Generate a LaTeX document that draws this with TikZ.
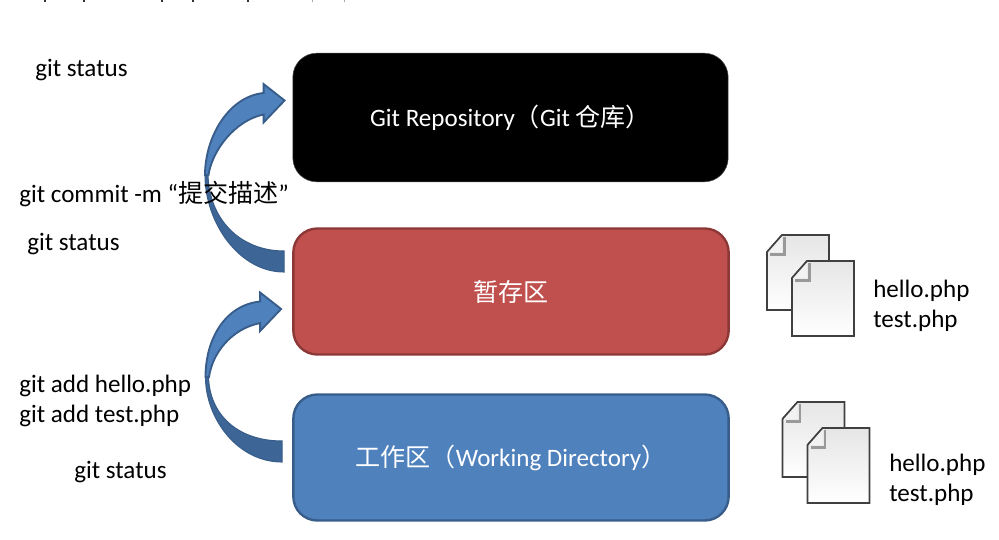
\documentclass[tikz,border=0pt]{standalone}
\usepackage{fontspec}
\setmainfont{Carlito}
\newfontfamily\cjk{Noto Sans CJK SC}
\usepackage{xcolor}
\usepackage{tikz}
\usetikzlibrary{positioning, calc}

\definecolor{gitblue}{HTML}{4F81BD}
\definecolor{gitblueedge}{HTML}{385D8A}
\definecolor{gitbluedark}{HTML}{3D6596}
\definecolor{gitred}{HTML}{C0504D}
\definecolor{gitrededge}{HTML}{8C3836}

% #1 tip, #2 neck, #3 middle of the tail
\newcommand{\bentarrow}[3]{
  \draw[bentdark] (#2) .. controls ($(#2)!.55!(#2|-#3)$) and ($(#3)+(-45,10.5)$) .. ($(#3)+(0,10.5)$)
    -- ($(#3)+(0,-10.5)$) .. controls ($(#3)+(-45,-10.5)$) and ($(#2)!.5!(#2|-#3)+(4,0)$) .. ($(#2)+(3,0)$) -- cycle;
  \draw[bentlight] (#2) .. controls ($(#2)+(0,-38)$) and ($(#1)+(-56,-4)$) .. ($(#1)+(-21,-7.5)$)
    -- ($(#1)+(-21,-16.5)$) -- (#1) -- ($(#1)+(-21,22)$) -- ($(#1)+(-21,14)$)
    .. controls ($(#1)+(-50,20)$) and ($(#2)+(7,-24)$) .. ($(#2)+(3.5,0)$) -- cycle;
}

\begin{document}
\begin{tikzpicture}[
    x=0.75pt, y=-0.75pt,
    box/.style={rectangle, draw, rounded corners=18pt, minimum height=94.5pt, minimum width=326.5pt, align=center, text=white, line width=1.8pt, font=\fontsize{18.8}{22.5}\selectfont},
    cmd/.style={inner sep=0pt, anchor=base west, font=\fontsize{18.8}{22.5}\selectfont},
    files/.style={inner sep=0pt, anchor=west, align=left, font=\fontsize{18.8}{22.5}\selectfont},
    bentlight/.style={fill=gitblue, draw=gitblueedge, line width=1.4pt, line join=miter},
    bentdark/.style={fill=gitbluedark, draw=gitblueedge, line width=0.8pt},
    docpage/.pic={
        \draw[top color=black!10, bottom color=white, draw=black!75, line width=1.2pt]
            (15,0) -- (62,0) -- (62,75) -- (0,75) -- (0,17) -- cycle;
        \draw[black!40, line width=2pt] (17.5,2) -- (17.5,19.5) -- (3,19.5);
        \fill[black!5] (15,0) -- (15,17) -- (0,17) -- cycle;
        \draw[black!75, line width=1.2pt] (15,0) -- (0,17);
    },
    docpair/.pic={
        \pic at (0,0) {docpage};
        \pic at (25,26) {docpage};
    }
]
\useasboundingbox (0,0) rectangle (999,539);

% what is left of the cut-off line at the top
\foreach \markx in {44,83,161,192,247}
    \fill[black!80] (\markx,0) rectangle ++(2,2);
\foreach \markx in {312,344}
    \fill[black!35] (\markx,0) rectangle ++(1,2);

\node[box, fill=black, draw=black!70, line width=0.4pt, minimum height=96.5pt] (repo) at (510.5,117.5) {Git Repository{\cjk （}Git {\cjk 仓库）}};
\node[box, fill=gitred, draw=gitrededge] (stage) at (511,291.5) {\cjk 暂存区};
\node[box, fill=gitblue, draw=gitblueedge] (work) at (511,457.5) {{\cjk 工作区（}Working Directory{\cjk ）}};

\coordinate (tip1) at ($(repo.west)+(-8,-17)$);
\coordinate (neck1) at (205,175);
\coordinate (tail1) at ($(stage.west)+(-8,-30)$);
\coordinate (tip2) at ($(stage.west)+(-11,17.5)$);
\coordinate (neck2) at (205.5,377);
\coordinate (tail2) at ($(work.west)+(-10,-6)$);

\bentarrow{tip1}{neck1}{tail1}
\bentarrow{tip2}{neck2}{tail2}

\node[cmd] (st1) at (35,76) {git status};
\node[cmd] (commit) at (19,202) {git commit -m “{\cjk 提交描述}”};
\node[cmd] (st2) at (27,250) {git status};
\node[cmd] (addh) at (19,392) {git add hello.php};
\node[cmd] (addt) at (19,422) {git add test.php};
\node[cmd] (st3) at (74,478.5) {git status};

\pic at (767,235) {docpair};
\pic at (782.5,402) {docpair};

\node[files] (list1) at (873,306) {hello.php\\test.php};
\node[files] (list2) at (889,479.5) {hello.php\\test.php};

\end{tikzpicture}
\end{document}
